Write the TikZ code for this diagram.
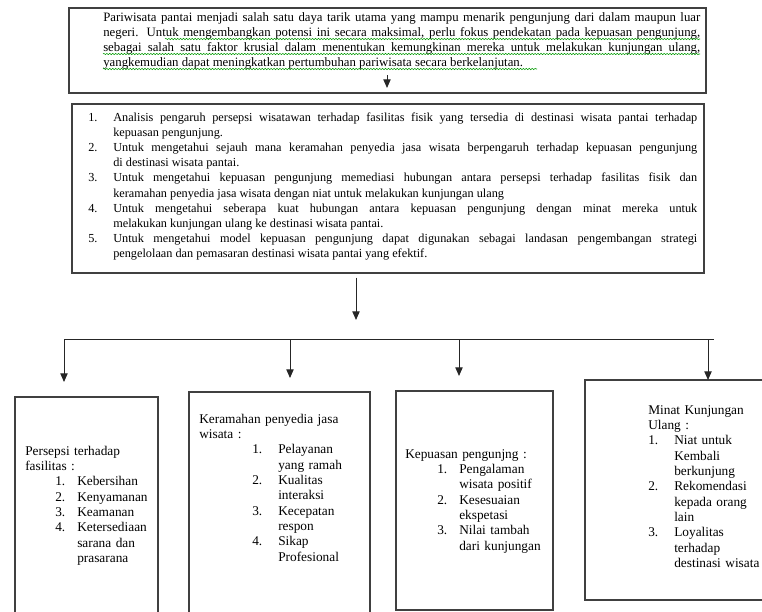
\documentclass[tikz,border=0pt]{standalone}
\usepackage{fontspec}
\setmainfont{Liberation Serif}
\usetikzlibrary{arrows.meta,positioning,calc,decorations.pathmorphing}
\newcommand{\li}[4]{\hspace*{#1}\makebox[#2][l]{#3}#4}

\begin{document}
\begin{tikzpicture}[x=0.75pt,y=-0.75pt,
  box/.style={shape=rectangle,draw=black!75,line width=0.8pt,inner sep=0pt},
  txt/.style={inner sep=0pt,anchor=base west,font=\fontsize{10}{11.5}\selectfont},
  arr/.style={-{Triangle[length=6.5pt,width=5.5pt]},line width=0.75pt,draw=black!85},
  garis/.style={line width=0.75pt,draw=black!85},
  wavy/.style={draw=green!60!black,line width=0.4pt,decorate,decoration={snake,amplitude=0.5pt,segment length=2.2pt}}]
  \useasboundingbox (0,0) rectangle (762,611);

  % kotak
  \node[box,minimum width=477.75pt,minimum height=63.75pt] (latar) at (387.5,50.5) {};
  \node[box,minimum width=474pt,minimum height=126.75pt] (tujuan) at (388,188.5) {};
  \node[box,minimum width=107.25pt,minimum height=167.25pt] (persepsi) at (86.5,508.5) {};
  \node[box,minimum width=135.75pt,minimum height=171pt] (keramahan) at (279.5,506) {};
  \node[box,minimum width=117.75pt,minimum height=164.25pt] (kepuasan) at (474.5,500.5) {};
  \node[box,minimum width=138.75pt,minimum height=165pt] (minat) at (677.5,490) {};

  % teks
  \node[txt,text width=447.75pt,align=justify,font=\fontsize{9.6}{11.25}\selectfont] (tlatar) at (103,21) {Pariwisata pantai menjadi salah satu daya tarik utama yang mampu menarik pengunjung dari dalam maupun luar\linebreak negeri. Untuk mengembangkan potensi ini secara maksimal, perlu fokus pendekatan pada kepuasan pengunjung,\linebreak sebagai salah satu faktor krusial dalam menentukan kemungkinan mereka untuk melakukan kunjungan ulang,\linebreak yangkemudian dapat meningkatkan pertumbuhan pariwisata secara berkelanjutan.};
  \node[txt,text width=456.75pt,align=justify,font=\fontsize{9.2}{11.4}\selectfont] (ttujuan) at (88,121) {%
    \noindent\hangindent=18.75pt\hangafter=1\makebox[18.75pt][l]{1.}Analisis pengaruh persepsi wisatawan terhadap fasilitas fisik yang tersedia di destinasi wisata pantai terhadap\linebreak kepuasan pengunjung.\par
    \noindent\hangindent=18.75pt\hangafter=1\makebox[18.75pt][l]{2.}Untuk mengetahui sejauh mana keramahan penyedia jasa wisata berpengaruh terhadap kepuasan pengunjung\linebreak di destinasi wisata pantai.\par
    \noindent\hangindent=18.75pt\hangafter=1\makebox[18.75pt][l]{3.}Untuk mengetahui kepuasan pengunjung memediasi hubungan antara persepsi terhadap fasilitas fisik dan\linebreak keramahan penyedia jasa wisata dengan niat untuk melakukan kunjungan ulang\par
    \noindent\hangindent=18.75pt\hangafter=1\makebox[18.75pt][l]{4.}Untuk mengetahui seberapa kuat hubungan antara kepuasan pengunjung dengan minat mereka untuk\linebreak melakukan kunjungan ulang ke destinasi wisata pantai.\par
    \noindent\hangindent=18.75pt\hangafter=1\makebox[18.75pt][l]{5.}Untuk mengetahui model kepuasan pengunjung dapat digunakan sebagai landasan pengembangan strategi\linebreak pengelolaan dan pemasaran destinasi wisata pantai yang efektif.\par};
  \node[txt,text width=98pt,align=left] (tpersepsi) at (25,455) {Persepsi terhadap\\
    fasilitas :\\
    \li{22.5pt}{16.5pt}{1.}{Kebersihan}\\
    \li{22.5pt}{16.5pt}{2.}{Kenyamanan}\\
    \li{22.5pt}{16.5pt}{3.}{Keamanan}\\
    \li{22.5pt}{16.5pt}{4.}{Ketersediaan}\\
    \li{22.5pt}{16.5pt}{}{sarana dan}\\
    \li{22.5pt}{16.5pt}{}{prasarana}};
  \node[txt,text width=125pt,align=left] (tkeramahan) at (199,423) {Keramahan penyedia jasa\\
    wisata :\\
    \li{39.75pt}{19.5pt}{1.}{Pelayanan}\\
    \li{39.75pt}{19.5pt}{}{yang ramah}\\
    \li{39.75pt}{19.5pt}{2.}{Kualitas}\\
    \li{39.75pt}{19.5pt}{}{interaksi}\\
    \li{39.75pt}{19.5pt}{3.}{Kecepatan}\\
    \li{39.75pt}{19.5pt}{}{respon}\\
    \li{39.75pt}{19.5pt}{4.}{Sikap}\\
    \li{39.75pt}{19.5pt}{}{Profesional}};
  \node[txt,text width=108pt,align=left] (tkepuasan) at (405,458) {Kepuasan pengunjng :\\
    \li{24pt}{16.5pt}{1.}{Pengalaman}\\
    \li{24pt}{16.5pt}{}{wisata positif}\\
    \li{24pt}{16.5pt}{2.}{Kesesuaian}\\
    \li{24pt}{16.5pt}{}{ekspetasi}\\
    \li{24pt}{16.5pt}{3.}{Nilai tambah}\\
    \li{24pt}{16.5pt}{}{dari kunjungan}};
  \node[txt,text width=100pt,align=left] (tminat) at (648,414) {Minat Kunjungan\\
    Ulang :\\
    \li{0pt}{19.5pt}{1.}{Niat untuk}\\
    \li{0pt}{19.5pt}{}{Kembali}\\
    \li{0pt}{19.5pt}{}{berkunjung}\\
    \li{0pt}{19.5pt}{2.}{Rekomendasi}\\
    \li{0pt}{19.5pt}{}{kepada orang}\\
    \li{0pt}{19.5pt}{}{lain}\\
    \li{0pt}{19.5pt}{3.}{Loyalitas}\\
    \li{0pt}{19.5pt}{}{terhadap}\\
    \li{0pt}{19.5pt}{}{destinasi wisata}};

  % garis bawah ejaan
  \draw[wavy] (165,39) -- (700,39);
  \draw[wavy] (103,54) -- (700,54);
  \draw[wavy] (103,69) -- (537,69);

  % panah
  \coordinate (a0s) at (387,75);
  \coordinate (a0e) at (387,88);
  \coordinate (a1e) at (356,320);
  \coordinate (kiri) at (64,339);
  \coordinate (kanan) at (714,339);
  \coordinate (u1) at (64,382);
  \coordinate (u2) at (290,378);
  \coordinate (u3) at (459,376);
  \coordinate (u4) at (708,380);
  \path (a0s) edge[arr] (a0e);
  \path (tujuan.south -| a1e) edge[arr,shorten <=3pt] (a1e);
  \path (kiri) edge[garis] (kanan);
  \path (kiri) edge[arr] (u1);
  \path (u2 |- kiri) edge[arr] (u2);
  \path (u3 |- kiri) edge[arr] (u3);
  \path (u4 |- kiri) edge[arr] (u4);
\end{tikzpicture}
\end{document}
